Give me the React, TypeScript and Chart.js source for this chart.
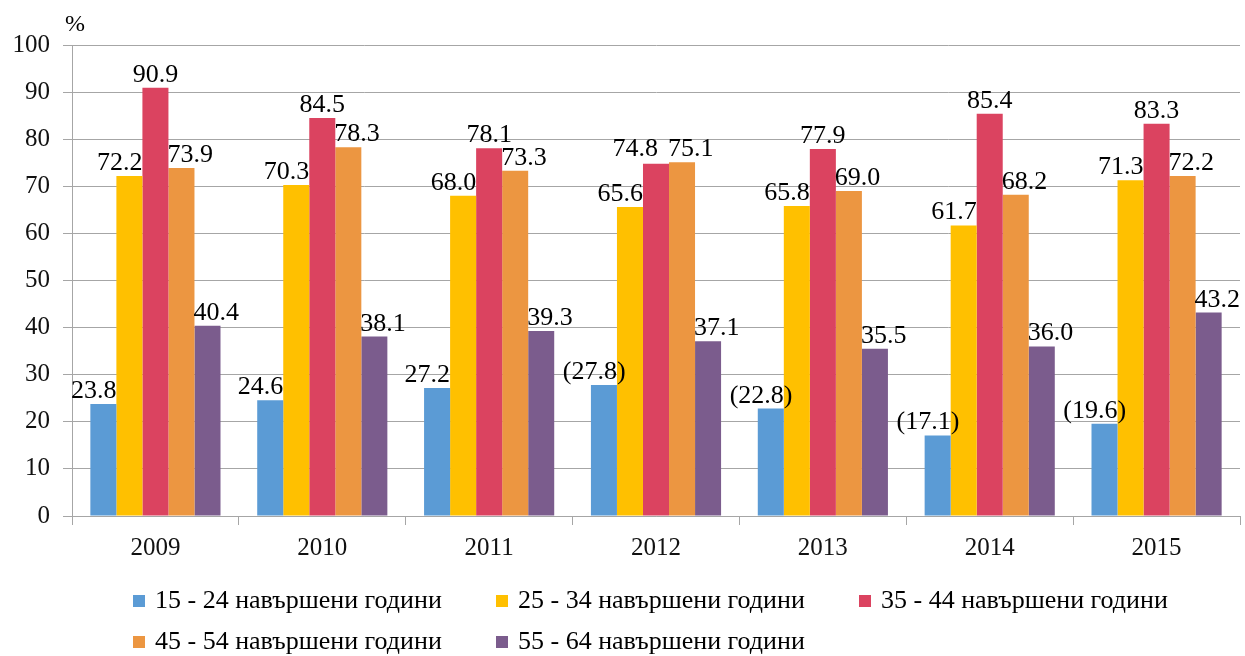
import React, { useEffect, useRef } from 'react';
import { Chart, registerables } from 'chart.js';

Chart.register(...registerables);

const categories = ['2009', '2010', '2011', '2012', '2013', '2014', '2015'];

const seriesNames = [
  '15 - 24 навършени години',
  '25 - 34 навършени години',
  '35 - 44 навършени години',
  '45 - 54 навършени години',
  '55 - 64 навършени години',
];

const values15to24 = [23.8, 24.6, 27.2, 27.8, 22.8, 17.1, 19.6];
const values25to34 = [72.2, 70.3, 68.0, 65.6, 65.8, 61.7, 71.3];
const values35to44 = [90.9, 84.5, 78.1, 74.8, 77.9, 85.4, 83.3];
const values45to54 = [73.9, 78.3, 73.3, 75.1, 69.0, 68.2, 72.2];
const values55to64 = [40.4, 38.1, 39.3, 37.1, 35.5, 36.0, 43.2];

// values shown in brackets (low reliability) for the 15 - 24 group
const bracketed15to24 = [false, false, false, true, true, true, true];

const seriesColors = ['#5B9BD5', '#FFC000', '#DB4360', '#EC9641', '#7B5C8D'];
const labelAlign = ['right', 'right', 'center', 'left', 'left'];

const yMin = 0;
const yMax = 100;
const yStep = 10;
const yUnit = '%';

const FONT = "'Liberation Serif', 'Times New Roman', serif";

const allValues = [values15to24, values25to34, values35to44, values45to54, values55to64];

const labelsPlugin = {
  id: 'valueLabels',
  afterDatasetsDraw(chart: any) {
    const ctx = chart.ctx;
    ctx.save();
    ctx.font = `26px ${FONT}`;
    ctx.fillStyle = '#000';
    ctx.textBaseline = 'alphabetic';
    ctx.textAlign = 'left';
    const n = chart.data.datasets.length;
    // compute positions first
    const pos: { x: number; y: number; w: number; text: string }[][] = [];
    chart.data.datasets.forEach((ds: any, di: number) => {
      const meta = chart.getDatasetMeta(di);
      pos[di] = meta.data.map((el: any, i: number) => {
        const v = ds.data[i] as number;
        const paren = di === 0 && bracketed15to24[i];
        const core = (paren ? '(' : '') + v.toFixed(1);
        const full = core + (paren ? ')' : '');
        const half = el.width / 2;
        const wCore = ctx.measureText(core).width;
        const wFull = ctx.measureText(full).width;
        let x: number;
        const a = labelAlign[di];
        if (a === 'right') x = el.x + half - wCore;
        else if (a === 'left') x = el.x - half - 1;
        else x = el.x - wFull / 2;
        return { x, y: el.y - 6, w: wFull, text: full };
      });
    });
    // avoid overlaps of centered labels with the next label on a similar line
    for (let di = 0; di < n; di++) {
      if (labelAlign[di] !== 'center' || di + 1 >= n) continue;
      pos[di].forEach((p, i) => {
        const q = pos[di + 1][i];
        if (Math.abs(q.y - p.y) < 22 && p.x + p.w > q.x - 6) {
          p.x = q.x - 10 - p.w;
          p.y = q.y;
        }
      });
    }
    pos.forEach((arr) => arr.forEach((p) => ctx.fillText(p.text, p.x, p.y)));
    ctx.restore();
  },
};

const decorPlugin = {
  id: 'decor',
  afterDraw(chart: any) {
    const ctx = chart.ctx;
    ctx.save();
    // unit label
    ctx.font = `24px ${FONT}`;
    ctx.fillStyle = '#000';
    ctx.textBaseline = 'alphabetic';
    ctx.textAlign = 'left';
    ctx.fillText(yUnit, 65, 31);

    // legend, grid of 3 columns
    const startX = 133;
    const colW = 363;
    const rowYs = [601, 642];
    ctx.font = `26px ${FONT}`;
    ctx.textBaseline = 'middle';
    chart.data.datasets.forEach((ds: any, di: number) => {
      const col = di % 3;
      const row = Math.floor(di / 3);
      const x = startX + col * colW;
      const y = rowYs[row];
      ctx.fillStyle = ds.backgroundColor;
      ctx.fillRect(x, y - 6, 12, 12);
      ctx.fillStyle = '#000';
      ctx.fillText(ds.label, x + 22, y);
    });
    ctx.restore();
  },
};

export default function App() {
  const ref = useRef<HTMLCanvasElement | null>(null);

  useEffect(() => {
    if (!ref.current) return;
    const chart = new Chart(ref.current, {
      type: 'bar',
      data: {
        labels: categories,
        datasets: seriesNames.map((name, i) => ({
          label: name,
          data: allValues[i],
          backgroundColor: seriesColors[i],
          borderWidth: 0,
          categoryPercentage: 0.78,
          barPercentage: 1,
        })),
      },
      options: {
        responsive: false,
        animation: false,
        layout: { padding: { top: 45, left: 0, right: 5, bottom: 95 } },
        plugins: {
          legend: { display: false },
          tooltip: { enabled: false },
        },
        scales: {
          x: {
            grid: {
              offset: true,
              drawOnChartArea: false,
              tickLength: 9,
              color: '#A6A6A6',
            },
            border: { color: '#A6A6A6' },
            ticks: {
              font: { family: FONT, size: 25 },
              color: '#111',
              padding: 8,
            },
            afterFit(s: any) {
              s.height = 45;
            },
          },
          y: {
            min: yMin,
            max: yMax,
            ticks: {
              stepSize: yStep,
              font: { family: FONT, size: 25 },
              color: '#111',
              padding: 13,
            },
            grid: { color: '#A6A6A6', tickLength: 9 },
            border: { color: '#A6A6A6' },
            afterFit(s: any) {
              s.width = 72;
            },
          },
        },
      },
      plugins: [labelsPlugin, decorPlugin],
    });
    return () => chart.destroy();
  }, []);

  return (
    <div style={{ position: 'fixed', left: 0, top: 0, width: 1245, height: 656, background: '#fff' }}>
      <canvas ref={ref} width={1245} height={656} />
    </div>
  );
}
